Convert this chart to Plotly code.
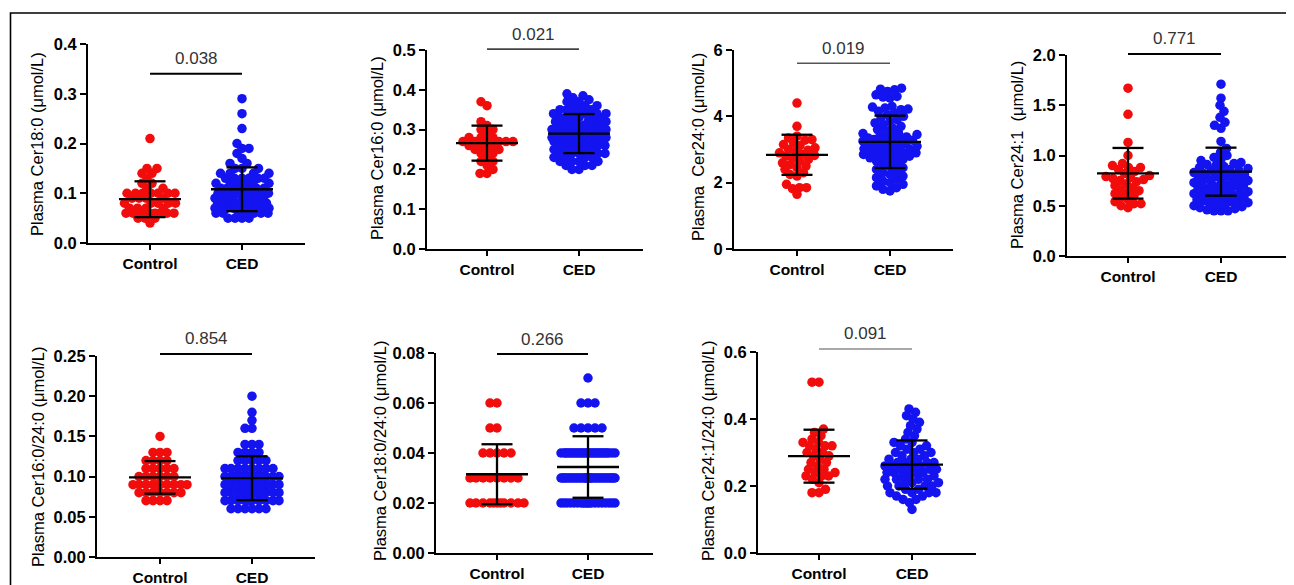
import numpy as np
import plotly.graph_objects as go

# page is shown with an 8px body margin; figure is sized so that it fills the window exactly
PAGE_OFF = 8
W, H = 1294 - PAGE_OFF, 585 - PAGE_OFF
categories = ["Control", "CED"]

y_titles = ["Plasma Cer18:0 (μmol/L)", "Plasma Cer16:0 (μmol/L)", "Plasma  Cer24:0 (μmol/L)",
            "Plasma Cer24:1  (μmol/L)", "Plasma Cer16:0/24:0 (μmol/L)", "Plasma Cer18:0/24:0 (μmol/L)",
            "Plasma Cer24:1/24:0 (μmol/L)"]
p_values = ["0.038", "0.021", "0.019", "0.771", "0.854", "0.266", "0.091"]
y_max = [0.4, 0.5, 6, 2.0, 0.25, 0.08, 0.6]
y_dtick = [0.1, 0.1, 2, 0.5, 0.05, 0.02, 0.2]
y_format = [".1f", ".1f", "d", ".1f", ".2f", ".2f", ".1f"]

# ---- data ----
cer180_ctrl = [0.21, 0.15, 0.15, 0.14, 0.14, 0.13, 0.12, 0.12, 0.11, 0.11,
               0.10, 0.10, 0.10, 0.10, 0.10, 0.10, 0.10, 0.09, 0.09, 0.09, 0.09,
               0.08, 0.08, 0.08, 0.08, 0.08, 0.07, 0.07, 0.07, 0.07,
               0.06, 0.06, 0.06, 0.06, 0.06, 0.06, 0.06, 0.06, 0.05, 0.05, 0.05, 0.04]
cer180_ced = [0.29, 0.26, 0.23, 0.20, 0.19, 0.19, 0.18, 0.17, 0.16, 0.16,
              0.15, 0.15, 0.15, 0.14, 0.14, 0.14, 0.14,
              0.13, 0.13, 0.13, 0.13, 0.13, 0.13, 0.12, 0.12, 0.12, 0.12, 0.12, 0.12,
              0.11, 0.11, 0.11, 0.11, 0.11, 0.11, 0.11,
              0.10, 0.10, 0.10, 0.10, 0.10, 0.10, 0.10, 0.10,
              0.09, 0.09, 0.09, 0.09, 0.09, 0.09, 0.09, 0.09,
              0.08, 0.08, 0.08, 0.08, 0.08, 0.08, 0.08, 0.08, 0.08,
              0.07, 0.07, 0.07, 0.07, 0.07, 0.07, 0.07, 0.07, 0.07, 0.07,
              0.06, 0.06, 0.06, 0.06, 0.06, 0.06, 0.06, 0.05, 0.05, 0.05, 0.05]
cer160_ctrl = [0.37, 0.36, 0.32, 0.31, 0.30, 0.30, 0.29, 0.28, 0.28, 0.28,
               0.27, 0.27, 0.27, 0.27, 0.27, 0.27, 0.26, 0.26, 0.26, 0.25, 0.25, 0.25,
               0.24, 0.24, 0.23, 0.22, 0.22, 0.21, 0.20, 0.19, 0.19]
cer160_ced = [0.39, 0.385, 0.38, 0.375, 0.37, 0.37, 0.36, 0.36, 0.36,
              0.35, 0.35, 0.35, 0.35, 0.34, 0.34, 0.34, 0.34, 0.34,
              0.33, 0.33, 0.33, 0.33, 0.33, 0.32, 0.32, 0.32, 0.32, 0.32,
              0.31, 0.31, 0.31, 0.31, 0.31, 0.31, 0.30, 0.30, 0.30, 0.30, 0.30, 0.30, 0.30,
              0.29, 0.29, 0.29, 0.29, 0.29, 0.29, 0.29, 0.29,
              0.28, 0.28, 0.28, 0.28, 0.28, 0.28, 0.28,
              0.27, 0.27, 0.27, 0.27, 0.27, 0.27, 0.26, 0.26, 0.26, 0.26, 0.26, 0.26,
              0.25, 0.25, 0.25, 0.25, 0.25, 0.24, 0.24, 0.24, 0.24, 0.24,
              0.23, 0.23, 0.23, 0.23, 0.22, 0.22, 0.22, 0.22, 0.21, 0.21, 0.21, 0.20, 0.20]
cer240_ctrl = [4.40, 3.70, 3.40, 3.35, 3.30, 3.28, 3.20, 3.15, 3.12, 3.05, 3.00, 2.98,
               2.95, 2.90, 2.85, 2.82, 2.80, 2.75, 2.70, 2.65, 2.60, 2.55, 2.50, 2.45,
               2.40, 2.30, 2.25, 2.20, 1.95, 1.85, 1.85, 1.82, 1.65]
cer240_ced = [4.85, 4.82, 4.80, 4.75, 4.65, 4.60, 4.58, 4.55, 4.30, 4.28, 4.25, 4.22,
              4.20, 4.15, 4.10, 4.05, 4.00, 3.95, 3.90, 3.85, 3.80, 3.75, 3.70, 3.65,
              3.60, 3.55, 3.50, 3.48, 3.45, 3.42, 3.40, 3.38, 3.35, 3.32, 3.30, 3.30,
              3.28, 3.25, 3.22, 3.20, 3.18, 3.15, 3.12, 3.10, 3.08, 3.05, 3.02, 3.00,
              3.00, 2.98, 2.95, 2.92, 2.90, 2.90, 2.88, 2.85, 2.82, 2.80, 2.78, 2.75,
              2.72, 2.70, 2.65, 2.60, 2.55, 2.50, 2.45, 2.40, 2.35, 2.30, 2.25, 2.20,
              2.15, 2.10, 2.05, 2.00, 1.95, 1.90, 1.85, 1.80, 1.75]
cer241_ctrl = [1.67, 1.41, 1.13, 1.00, 0.92, 0.90, 0.88, 0.88, 0.86, 0.84, 0.82, 0.80,
               0.79, 0.78, 0.77, 0.76, 0.75, 0.74, 0.72, 0.70, 0.68, 0.66, 0.65, 0.63,
               0.62, 0.60, 0.58, 0.56, 0.54, 0.52, 0.52, 0.50, 0.48]
cer241_ced = [1.71, 1.57, 1.50, 1.44, 1.38, 1.33, 1.30, 1.27, 1.14, 1.07, 1.03, 1.00,
              0.98, 0.96, 0.95, 0.93, 0.92, 0.91, 0.90, 0.89, 0.88, 0.87, 0.86, 0.85,
              0.85, 0.84, 0.83, 0.82, 0.81, 0.80, 0.80, 0.79, 0.78, 0.77, 0.76, 0.75,
              0.75, 0.74, 0.73, 0.72, 0.72, 0.71, 0.70, 0.70, 0.69, 0.68, 0.67, 0.66,
              0.65, 0.65, 0.64, 0.63, 0.62, 0.62, 0.61, 0.60, 0.60, 0.59, 0.58, 0.57,
              0.56, 0.56, 0.55, 0.55, 0.54, 0.53, 0.52, 0.51, 0.50, 0.50, 0.49, 0.48,
              0.47, 0.46, 0.45, 0.45, 0.45]
cer16_24_ctrl = [0.15, 0.13, 0.13, 0.13, 0.12, 0.12, 0.12, 0.12, 0.11, 0.11, 0.11, 0.11, 0.11,
                 0.10, 0.10, 0.10, 0.10, 0.10, 0.10, 0.09, 0.09, 0.09, 0.09, 0.09, 0.09,
                 0.09, 0.09, 0.09, 0.09, 0.08, 0.08, 0.08, 0.08, 0.08, 0.08, 0.08,
                 0.07, 0.07, 0.07, 0.07]
cer16_24_ced = [0.20, 0.18, 0.17, 0.16, 0.16, 0.14, 0.14, 0.14, 0.13, 0.13, 0.13, 0.13,
                0.12, 0.12, 0.12, 0.12, 0.12, 0.11, 0.11, 0.11, 0.11, 0.11, 0.11, 0.11, 0.11,
                0.10, 0.10, 0.10, 0.10, 0.10, 0.10, 0.10, 0.10, 0.10, 0.10, 0.10, 0.10, 0.10, 0.10,
                0.09, 0.09, 0.09, 0.09, 0.09, 0.09, 0.09, 0.09, 0.09, 0.09, 0.09, 0.09, 0.09, 0.09,
                0.09, 0.09, 0.08, 0.08, 0.08, 0.08, 0.08, 0.08, 0.08, 0.08, 0.08, 0.08, 0.08,
                0.08, 0.08, 0.08, 0.07, 0.07, 0.07, 0.07, 0.07, 0.07, 0.07, 0.07, 0.07, 0.07,
                0.06, 0.06, 0.06, 0.06, 0.06, 0.06]
cer18_24_ctrl = [0.06, 0.06, 0.05, 0.05, 0.04, 0.04, 0.04, 0.04, 0.04,
                 0.03, 0.03, 0.03, 0.03, 0.03, 0.03, 0.03, 0.03,
                 0.02, 0.02, 0.02, 0.02, 0.02, 0.02, 0.02, 0.02, 0.02, 0.02, 0.02]
cer18_24_ced = [0.07, 0.06, 0.06, 0.06, 0.05, 0.05, 0.05, 0.05, 0.05,
                0.04, 0.04, 0.04, 0.04, 0.04, 0.04, 0.04, 0.04, 0.04, 0.04,
                0.04, 0.04, 0.04, 0.04, 0.04, 0.04, 0.04, 0.04, 0.04, 0.04,
                0.04, 0.04, 0.04, 0.04, 0.04, 0.04, 0.04, 0.04, 0.04, 0.04,
                0.03, 0.03, 0.03, 0.03, 0.03, 0.03, 0.03, 0.03, 0.03, 0.03,
                0.03, 0.03, 0.03, 0.03, 0.03, 0.03, 0.03, 0.03, 0.03, 0.03,
                0.03, 0.03, 0.03, 0.03, 0.03, 0.03, 0.03, 0.03, 0.03, 0.03,
                0.03, 0.03, 0.03, 0.03, 0.03,
                0.02, 0.02, 0.02, 0.02, 0.02, 0.02, 0.02, 0.02, 0.02, 0.02,
                0.02, 0.02, 0.02, 0.02, 0.02, 0.02, 0.02, 0.02, 0.02, 0.02]
cer241_24_ctrl = [0.51, 0.51, 0.37, 0.36, 0.35, 0.34, 0.33, 0.33, 0.32, 0.32, 0.32, 0.31,
                  0.30, 0.30, 0.29, 0.29, 0.28, 0.27, 0.27, 0.26, 0.25, 0.25, 0.24, 0.24,
                  0.23, 0.23, 0.23, 0.22, 0.21, 0.19, 0.18, 0.18]
cer241_24_ced = [0.43, 0.42, 0.41, 0.40, 0.39, 0.38, 0.37, 0.36, 0.35, 0.34, 0.33, 0.33,
                 0.32, 0.32, 0.31, 0.31, 0.30, 0.30, 0.30, 0.29, 0.29, 0.28, 0.28, 0.28,
                 0.27, 0.27, 0.27, 0.27, 0.26, 0.26, 0.26, 0.26, 0.25, 0.25, 0.25, 0.25,
                 0.24, 0.24, 0.24, 0.24, 0.23, 0.23, 0.23, 0.22, 0.22, 0.22, 0.22, 0.21,
                 0.21, 0.21, 0.20, 0.20, 0.20, 0.20, 0.19, 0.19, 0.18, 0.18, 0.18, 0.18,
                 0.17, 0.17, 0.16, 0.16, 0.15, 0.13]

control_values = [cer180_ctrl, cer160_ctrl, cer240_ctrl, cer241_ctrl, cer16_24_ctrl, cer18_24_ctrl, cer241_24_ctrl]
ced_values = [cer180_ced, cer160_ced, cer240_ced, cer241_ced, cer16_24_ced, cer18_24_ced, cer241_24_ced]

mean_control = [0.088, 0.266, 2.84, 0.823, 0.099, 0.0315, 0.289]
sd_control = [0.036, 0.044, 0.605, 0.252, 0.0203, 0.012, 0.079]
mean_ced = [0.108, 0.290, 3.23, 0.839, 0.098, 0.0344, 0.264]
sd_ced = [0.044, 0.049, 0.79, 0.239, 0.0273, 0.0123, 0.072]

# ---- layout geometry (window pixels): y-axis x, x-axis end, top, bottom, control px, CED px ----
panel_px = [(88, 305, 44, 243, 150, 242), (427, 643, 50, 249, 487, 579),
            (734, 953, 50, 249, 797, 890), (1067, 1286, 55, 256, 1128, 1221),
            (97, 315, 356, 557, 160, 252), (436, 653, 353, 553, 497, 588),
            (758, 976, 352, 553, 819, 912)]
sig_level = [0.34, 0.502, 5.6, 2.01, 0.2525, 0.0796, 0.609]
sig_style = [("black", 2.0), ("#444", 1.7), ("#555", 1.3), ("black", 2.0),
             ("black", 2.0), ("black", 2.0), ("#555", 1.1)]
title_pos = [(37, 144), (377, 148), (698, 147), (1017, 155), (38, 457), (380, 451), (708, 451)]

RED, BLUE = "#F20D0D", "#1414F0"
FONT = "Arial, Liberation Sans, sans-serif"


def px_x(px):
    return (px - PAGE_OFF) / W


def px_y(py):
    return 1 - (py - PAGE_OFF) / H


def swarm(vals, center, ymax, ylen_px, unit_px, d=7.0, half=27.0):
    """Beeswarm layout: each point goes to the nearest free spot; crowded rows get compressed."""
    v = np.sort(np.asarray(vals, dtype=float))
    ypx = v / ymax * ylen_px
    grid = np.arange(-half, half + 0.001, 0.5)
    grid = np.array(sorted(grid, key=lambda c: (abs(c), c)))
    px_list, py_list = [], []
    for y in ypx:
        if px_list:
            pxa, pya = np.array(px_list), np.array(py_list)
            near = np.abs(pya - y) < d
        else:
            near = np.array([], dtype=bool)
        if not near.any():
            x = 0.0
        else:
            dx = grid[:, None] - pxa[near][None, :]
            dy = (pya[near] - y)[None, :]
            dist = np.sqrt(dx ** 2 + dy ** 2).min(axis=1)
            ok = dist >= d
            if ok.any():
                x = grid[np.argmax(ok)]
            else:
                x = grid[np.argmax(dist)]
        px_list.append(x)
        py_list.append(y)
    return center + np.array(px_list) / unit_px, v


fig = go.Figure()
annotations = []
shapes = []
layout_axes = {}

for i in range(7):
    left, right, top, bottom, cpx, dpx = panel_px[i]
    unit = dpx - cpx
    xlo = -(cpx - left) / unit
    xhi = 1 + (right - dpx) / unit
    ylen = bottom - top
    xa = "x" if i == 0 else f"x{i+1}"
    ya = "y" if i == 0 else f"y{i+1}"
    xkey = "xaxis" if i == 0 else f"xaxis{i+1}"
    ykey = "yaxis" if i == 0 else f"yaxis{i+1}"

    for gi, (vals, col) in enumerate([(control_values[i], RED), (ced_values[i], BLUE)]):
        xs, ys = swarm(vals, gi, y_max[i], ylen, unit)
        fig.add_trace(go.Scatter(x=xs, y=ys, mode="markers", xaxis=xa, yaxis=ya,
                                 marker=dict(size=9.5, color=col, line=dict(width=0)),
                                 cliponaxis=False, showlegend=False, hoverinfo="y"))

    # mean and SD bars
    mh = 31.0 / unit
    ch = 15.5 / unit
    lx, ly = [], []
    for gi, (m, s) in enumerate([(mean_control[i], sd_control[i]), (mean_ced[i], sd_ced[i])]):
        lx += [gi - mh, gi + mh, None, gi, gi, None, gi - ch, gi + ch, None, gi - ch, gi + ch, None]
        ly += [m, m, None, m - s, m + s, None, m + s, m + s, None, m - s, m - s, None]
    fig.add_trace(go.Scatter(x=lx, y=ly, mode="lines", xaxis=xa, yaxis=ya,
                             line=dict(color="black", width=2.3), showlegend=False, hoverinfo="skip"))

    layout_axes[xkey] = dict(domain=[px_x(left), px_x(right)], range=[xlo, xhi], anchor=ya,
                             tickvals=[0, 1], ticktext=categories, showgrid=False, zeroline=False,
                             showline=True, linecolor="black", linewidth=2, automargin=False,
                             ticks="outside", ticklen=5, tickwidth=2, tickcolor="black",
                             tickfont=dict(family=FONT, size=15.5, color="black", weight="bold"),
                             fixedrange=True)
    layout_axes[ykey] = dict(domain=[px_y(bottom), px_y(top)], range=[0, y_max[i]], anchor=xa,
                             dtick=y_dtick[i], tick0=0, tickformat=y_format[i], showgrid=False,
                             zeroline=False, showline=True, linecolor="black", linewidth=2,
                             automargin=False,
                             ticks="outside", ticklen=6, tickwidth=2, tickcolor="black",
                             tickfont=dict(family=FONT, size=16.5, color="black", weight="bold"),
                             fixedrange=True)

    # significance line and p-value
    frac = sig_level[i] / y_max[i]
    col, wd = sig_style[i]
    shapes.append(dict(type="line", xref=xa, yref=f"{ya} domain", x0=0, x1=1, y0=frac, y1=frac,
                       line=dict(color=col, width=wd)))
    annotations.append(dict(text=p_values[i], xref=xa, yref=f"{ya} domain", x=0.5, y=frac,
                            yshift=15, showarrow=False, xanchor="center", yanchor="middle",
                            font=dict(family=FONT, size=17, color="#333")))
    tx, ty = title_pos[i]
    annotations.append(dict(text=y_titles[i], xref="paper", yref="paper", x=px_x(tx), y=px_y(ty),
                            textangle=-90, showarrow=False, xanchor="center", yanchor="middle",
                            font=dict(family=FONT, size=16.5, color="black")))

# outer frame
shapes.append(dict(type="rect", xref="paper", yref="paper", x0=px_x(10.5), x1=1.02, y0=-0.05,
                   y1=px_y(13.0), line=dict(color="black", width=1.6), fillcolor="rgba(0,0,0,0)"))

fig.update_layout(width=W, height=H, margin=dict(l=0, r=0, t=0, b=0, autoexpand=False),
                  paper_bgcolor="white", plot_bgcolor="white", showlegend=False,
                  annotations=annotations, shapes=shapes, **layout_axes)

fig.write_html("out.html")
